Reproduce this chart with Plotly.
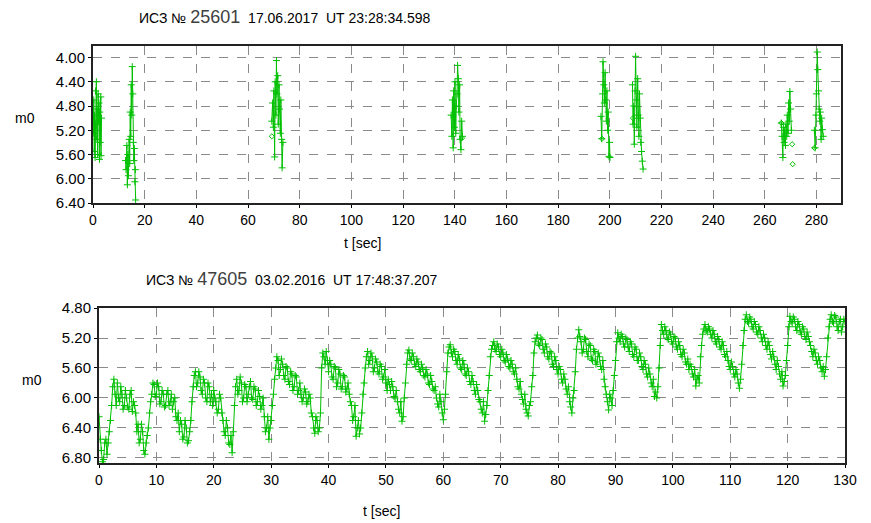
import numpy as np
import plotly.graph_objects as go

# ---------------- data: top chart (ИСЗ № 25601) ----------------
c1_t = [0.1, 0.3, 0.5, 0.6, 0.8, 1.0, 1.1, 1.3, 1.5, 1.6, 1.8, 2.0, 2.1, 2.3, 2.5, 2.6, 2.8, 3.0, 3.1, 3.3]
c1_y = [5.25, 4.70, 5.55, 4.95, 5.65, 4.55, 5.10, 4.40, 5.35, 4.85, 5.60, 4.60, 5.05, 4.75, 5.68, 4.90, 5.40, 4.65, 5.62, 5.00]
c2_t = [12.6, 12.8, 13.1, 13.3, 13.5, 13.7, 14.0, 14.2, 14.4, 14.6, 14.8, 15.0, 15.2, 15.4, 15.6, 15.8, 16.0, 16.2, 16.4, 16.5]
c2_y = [5.70, 5.85, 5.45, 6.10, 5.60, 5.95, 5.35, 5.75, 4.90, 5.30, 4.45, 4.95, 4.15, 4.60, 5.40, 5.70, 5.50, 6.05, 5.85, 6.35]
c3_t = [69.2, 69.5, 69.8, 70.0, 70.3, 70.5, 70.8, 71.0, 71.2, 71.5, 71.7, 72.0, 72.2, 72.5, 72.7, 73.0, 73.2, 73.5]
c3_y = [5.05, 4.75, 5.15, 4.55, 5.64, 4.40, 4.95, 4.05, 4.60, 4.30, 5.10, 4.45, 4.85, 5.25, 4.70, 5.35, 5.82, 5.40]
c4_t = [138.6, 138.9, 139.1, 139.4, 139.6, 139.9, 140.1, 140.4, 140.6, 140.9, 141.1, 141.4, 141.6, 141.9, 142.1, 142.4, 142.7, 143.0]
c4_y = [4.95, 5.30, 4.70, 5.49, 4.55, 5.15, 4.40, 5.25, 4.80, 4.60, 4.13, 4.35, 4.90, 4.45, 5.35, 5.52, 5.05, 5.30]
c5_t = [196.6, 196.9, 197.2, 197.4, 197.7, 197.9, 198.2, 198.4, 198.7, 198.9, 199.2, 199.4, 199.7, 199.9, 200.1]
c5_y = [4.97, 5.34, 4.60, 4.07, 4.45, 4.75, 4.25, 4.70, 5.05, 4.55, 5.20, 4.90, 5.63, 5.40, 5.65]
c6_t = [208.8, 209.0, 209.3, 209.5, 209.8, 210.0, 210.3, 210.5, 210.8, 211.0, 211.3, 211.5, 211.8, 212.0, 212.3, 212.6, 212.9]
c6_y = [4.45, 5.10, 4.80, 5.43, 4.55, 3.98, 4.70, 5.15, 4.35, 4.95, 5.30, 4.60, 5.00, 5.40, 5.55, 5.71, 5.84]
c7_t = [266.4, 266.7, 267.0, 267.2, 267.5, 267.7, 268.0, 268.2, 268.5, 268.7, 269.0, 269.2, 269.5, 269.7, 270.0, 270.3]
c7_y = [5.08, 5.30, 5.65, 5.15, 5.40, 5.20, 5.45, 5.10, 5.30, 4.95, 5.25, 4.75, 5.05, 4.56, 4.85, 5.20]
c8_t = [279.2, 279.5, 279.8, 280.0, 280.3, 280.5, 280.8, 281.0, 281.3, 281.5, 281.8, 282.0, 282.3, 282.6]
c8_y = [5.20, 5.49, 4.95, 4.60, 3.91, 4.20, 4.55, 4.85, 5.05, 4.90, 5.35, 5.00, 5.19, 5.30]
# isolated open-diamond points
dia_t = [0.2, 69.2, 142.8, 197.0, 209.0, 266.4, 270.6, 270.8, 279.2]
dia_y = [5.15, 5.30, 5.33, 5.34, 5.00, 5.08, 5.43, 5.76, 5.49]

top_yticks = [4.00, 4.40, 4.80, 5.20, 5.60, 6.00, 6.40]
top_xticks = list(range(0, 281, 20))

# ---------------- data: bottom chart (ИСЗ № 47605) ----------------
# samples at t = 0.0, 0.4, 0.8 ... 130.0
bot_t_a = np.round(np.arange(0, 130.001, 0.4), 1)
bot_y_a = [
    6.25, 6.70, 6.82, 6.55, 6.60, 6.30, 5.85, 5.95, 5.80, 6.05,
    5.95, 6.10, 6.00, 6.15, 5.90, 6.05, 6.20, 6.35, 6.55, 6.45,
    6.75, 6.50, 6.20, 5.95, 5.82, 5.95, 5.85, 6.05, 5.95, 6.10,
    5.90, 6.05, 6.15, 6.00, 6.30, 6.45, 6.35, 6.52, 6.40, 6.57,
    6.30, 5.85, 5.65, 5.80, 5.72, 5.95, 5.80, 6.05, 5.85, 5.95,
    5.90, 6.05, 6.15, 6.00, 6.30, 6.50, 6.40, 6.62, 6.73, 6.10,
    5.75, 5.90, 5.80, 6.00, 5.85, 5.95, 5.78, 6.02, 5.88, 6.05,
    5.98, 6.10, 6.25, 6.40, 6.55, 6.30, 5.95, 5.60, 5.50, 5.62,
    5.55, 5.75, 5.60, 5.82, 5.68, 5.85, 5.72, 5.90, 5.95, 6.00,
    5.92, 6.05, 6.00, 6.25, 6.47, 6.30, 6.40, 5.60, 5.45, 5.38,
    5.65, 5.55, 5.75, 5.60, 5.80, 5.68, 5.85, 5.72, 5.88, 5.95,
    6.10, 6.25, 6.51, 6.30, 6.40, 5.95, 5.60, 5.38, 5.50, 5.45,
    5.60, 5.52, 5.68, 5.58, 5.72, 5.80, 5.75, 5.90, 5.85, 6.00,
    6.05, 6.20, 6.31, 6.00, 5.55, 5.36, 5.50, 5.45, 5.58, 5.52,
    5.65, 5.60, 5.72, 5.68, 5.82, 5.78, 5.90, 6.00, 6.12, 6.05,
    6.29, 5.95, 5.40, 5.29, 5.45, 5.38, 5.55, 5.48, 5.62, 5.55,
    5.70, 5.65, 5.82, 5.78, 5.95, 5.90, 6.05, 6.20, 6.31, 6.10,
    5.70, 5.35, 5.25, 5.38, 5.32, 5.45, 5.40, 5.52, 5.48, 5.60,
    5.55, 5.68, 5.75, 5.88, 5.95, 6.08, 6.15, 6.24, 6.05, 5.70,
    5.25, 5.16, 5.30, 5.22, 5.40, 5.32, 5.48, 5.40, 5.58, 5.50,
    5.68, 5.62, 5.80, 5.75, 5.95, 6.05, 6.20, 5.90, 5.35, 5.09,
    5.25, 5.35, 5.22, 5.45, 5.30, 5.50, 5.38, 5.52, 5.45, 5.62,
    5.75, 5.95, 6.16, 6.00, 5.90, 5.50, 5.13, 5.25, 5.18, 5.32,
    5.22, 5.38, 5.28, 5.45, 5.35, 5.50, 5.45, 5.62, 5.55, 5.72,
    5.68, 5.85, 5.98, 6.00, 5.60, 5.02, 5.15, 5.10, 5.22, 5.15,
    5.28, 5.20, 5.35, 5.30, 5.45, 5.40, 5.55, 5.62, 5.58, 5.72,
    5.84, 5.70, 5.45, 5.15, 5.02, 5.12, 5.08, 5.20, 5.15, 5.28,
    5.22, 5.35, 5.30, 5.45, 5.50, 5.62, 5.58, 5.72, 5.68, 5.87,
    5.55, 5.10, 4.89, 5.00, 4.95, 5.08, 5.02, 5.15, 5.10, 5.25,
    5.20, 5.35, 5.30, 5.48, 5.45, 5.62, 5.58, 5.75, 5.84, 5.70,
    5.30, 4.91, 5.00, 4.95, 5.10, 5.02, 5.15, 5.08, 5.22, 5.18,
    5.30, 5.45, 5.40, 5.55, 5.50, 5.65, 5.71, 5.45, 5.05, 4.89,
    5.00, 4.92, 5.10, 4.95, 5.05, 4.98,
]
# samples at t = 0.2, 0.6, 1.0 ... 129.8
bot_t_b = np.round(np.arange(0.2, 129.9, 0.4), 1)
bot_y_b = [
    6.55, 6.85, 6.60, 6.75, 6.45, 6.10, 5.75, 6.10, 6.00, 5.85,
    6.15, 5.90, 6.12, 5.95, 6.18, 6.10, 6.45, 6.60, 6.35, 6.70,
    6.60, 6.40, 6.05, 5.80, 5.98, 5.80, 6.08, 5.90, 6.12, 5.95,
    6.10, 5.95, 6.05, 6.25, 6.20, 6.30, 6.55, 6.30, 6.60, 6.45,
    6.05, 5.70, 5.85, 5.65, 5.90, 5.75, 6.00, 5.80, 6.05, 6.10,
    6.00, 6.20, 5.95, 6.20, 6.45, 6.30, 6.60, 6.50, 6.45, 5.85,
    5.95, 5.72, 6.05, 5.82, 6.05, 5.85, 6.00, 5.85, 6.10, 5.90,
    6.15, 6.00, 6.45, 6.25, 6.40, 6.10, 5.75, 5.45, 5.70, 5.48,
    5.70, 5.58, 5.78, 5.65, 5.90, 5.70, 5.95, 5.80, 6.05, 5.88,
    6.08, 5.95, 6.20, 6.40, 6.25, 6.45, 6.20, 5.40, 5.55, 5.50,
    5.50, 5.72, 5.58, 5.85, 5.62, 5.88, 5.70, 5.92, 5.80, 6.05,
    6.30, 6.10, 6.40, 6.48, 6.20, 5.80, 5.45, 5.55, 5.40, 5.65,
    5.48, 5.65, 5.55, 5.75, 5.62, 5.90, 5.82, 5.78, 5.98, 5.90,
    6.15, 6.05, 6.25, 5.80, 5.40, 5.48, 5.40, 5.55, 5.48, 5.62,
    5.55, 5.70, 5.62, 5.80, 5.70, 5.88, 5.85, 6.08, 5.95, 6.20,
    6.15, 5.65, 5.32, 5.40, 5.35, 5.50, 5.42, 5.60, 5.50, 5.68,
    5.60, 5.78, 5.70, 5.90, 5.82, 6.02, 6.15, 6.05, 6.22, 5.90,
    5.45, 5.30, 5.35, 5.28, 5.42, 5.35, 5.50, 5.42, 5.58, 5.50,
    5.65, 5.60, 5.85, 5.78, 6.02, 5.95, 6.20, 6.10, 5.85, 5.40,
    5.20, 5.28, 5.20, 5.35, 5.28, 5.45, 5.38, 5.55, 5.45, 5.62,
    5.58, 5.75, 5.68, 5.88, 5.85, 6.12, 6.00, 5.65, 5.20, 5.18,
    5.40, 5.20, 5.38, 5.28, 5.48, 5.35, 5.55, 5.40, 5.58, 5.50,
    5.85, 6.05, 5.95, 6.10, 5.70, 5.25, 5.20, 5.15, 5.28, 5.20,
    5.32, 5.25, 5.42, 5.32, 5.50, 5.40, 5.58, 5.50, 5.68, 5.60,
    5.80, 5.75, 5.92, 5.85, 5.30, 5.10, 5.05, 5.20, 5.12, 5.25,
    5.18, 5.32, 5.25, 5.42, 5.35, 5.52, 5.48, 5.55, 5.68, 5.62,
    5.75, 5.80, 5.30, 5.08, 5.10, 5.05, 5.15, 5.10, 5.25, 5.18,
    5.32, 5.25, 5.42, 5.38, 5.58, 5.52, 5.68, 5.62, 5.80, 5.75,
    5.30, 4.95, 4.98, 4.92, 5.05, 4.98, 5.12, 5.05, 5.20, 5.15,
    5.30, 5.25, 5.42, 5.38, 5.55, 5.50, 5.68, 5.65, 5.78, 5.50,
    5.05, 4.98, 4.92, 5.05, 4.98, 5.12, 5.05, 5.18, 5.12, 5.25,
    5.38, 5.35, 5.50, 5.45, 5.60, 5.58, 5.62, 5.20, 4.95, 4.98,
    4.90, 5.05, 4.98, 5.12, 4.95,
]
bot_yticks = [4.80, 5.20, 5.60, 6.00, 6.40, 6.80]
bot_xticks = list(range(0, 131, 10))

# ---------------- figure ----------------
# the page body has an 8 px margin, so the figure is drawn 8 px smaller
OFF = 8
W, H = 871 - OFF, 523 - OFF
GREEN = "#00c000"
FONT = "Liberation Sans, Arial, sans-serif"


def px_x(p):
    return (p - OFF) / W


def px_y(p):
    return 1 - (p - OFF) / H


clusters_t = [c1_t, c2_t, c3_t, c4_t, c5_t, c6_t, c7_t, c8_t]
clusters_y = [c1_y, c2_y, c3_y, c4_y, c5_y, c6_y, c7_y, c8_y]
top_t, top_y = [], []
for ct, cy in zip(clusters_t, clusters_y):
    top_t += ct + [None]
    top_y += cy + [None]

# merge the two interleaved sample sets in time order
bot_pairs = sorted(zip(list(bot_t_a) + list(bot_t_b), bot_y_a + bot_y_b))
bot_t = [p[0] for p in bot_pairs]
bot_y = [p[1] for p in bot_pairs]

line = dict(color=GREEN, width=1)
marker = dict(symbol="cross-thin", size=5, color=GREEN, line=dict(color=GREEN, width=1))

fig = go.Figure()
fig.add_trace(go.Scatter(x=top_t, y=top_y, mode="lines+markers", line=line, marker=marker,
                         xaxis="x", yaxis="y", connectgaps=False, showlegend=False, hoverinfo="skip"))
fig.add_trace(go.Scatter(x=dia_t, y=dia_y, mode="markers",
                         marker=dict(symbol="diamond-open", size=4, color=GREEN, line=dict(color=GREEN, width=1)),
                         xaxis="x", yaxis="y", showlegend=False, hoverinfo="skip"))
fig.add_trace(go.Scatter(x=bot_t, y=bot_y, mode="lines+markers", line=line, marker=marker,
                         xaxis="x2", yaxis="y2", showlegend=False, hoverinfo="skip"))

axis_common = dict(
    showgrid=True, gridcolor="#8a8a8a", griddash="dash", gridwidth=1,
    showline=True, linecolor="#222222", linewidth=2, mirror=True,
    ticks="outside", ticklen=3, tickcolor="#000000",
    zeroline=False, fixedrange=True, automargin=False,
)
xfont = dict(family=FONT, size=14, color="#000000")
yfont = dict(family=FONT, size=15, color="#000000")

fig.update_layout(
    width=W, height=H,
    margin=dict(l=0, r=0, t=0, b=0),
    paper_bgcolor="white", plot_bgcolor="white",
    font=dict(family=FONT, size=14, color="#000000"),
    xaxis=dict(axis_common, domain=[px_x(93), px_x(841)], range=[0, 289.5],
               tickvals=top_xticks, tickfont=xfont, anchor="y"),
    yaxis=dict(axis_common, domain=[px_y(203), px_y(46)], range=[6.40, 3.81],
               tickvals=top_yticks, ticktext=[f"{v:.2f}" for v in top_yticks],
               tickfont=yfont, anchor="x"),
    xaxis2=dict(axis_common, domain=[px_x(99), px_x(845)], range=[0, 130],
                tickvals=bot_xticks, tickfont=xfont, anchor="y2"),
    yaxis2=dict(axis_common, domain=[px_y(463), px_y(308)], range=[6.867, 4.80],
                tickvals=bot_yticks, ticktext=[f"{v:.2f}" for v in bot_yticks],
                tickfont=yfont, anchor="x2"),
)

NB = "\u00a0"


def title_text(num, date, ut):
    return (f"ИСЗ{NB}№{NB}<span style='font-size:18px;color:#404040'>{num}</span>"
            f"{NB}{NB}{date}{NB}{NB}UT{NB}{ut}")


annotations = [
    dict(text=title_text("25601", "17.06.2017", "23:28:34.598"), x=px_x(137), y=px_y(17)),
    dict(text=title_text("47605", "03.02.2016", "17:48:37.207"), x=px_x(144), y=px_y(279)),
]
for a in annotations:
    a.update(xref="paper", yref="paper", xanchor="left", yanchor="middle", showarrow=False,
             font=dict(family=FONT, size=14, color="#000000"))

labels = [
    ("m0", 25, 118), ("m0", 32, 380),
    ("t [sec]", 362, 243), ("t [sec]", 381, 511),
]
for txt, x, y in labels:
    annotations.append(dict(text=txt, x=px_x(x), y=px_y(y), xref="paper", yref="paper",
                            xanchor="center", yanchor="middle", showarrow=False,
                            font=dict(family=FONT, size=14, color="#000000")))
fig.update_layout(annotations=annotations)

fig.write_html("out.html")
